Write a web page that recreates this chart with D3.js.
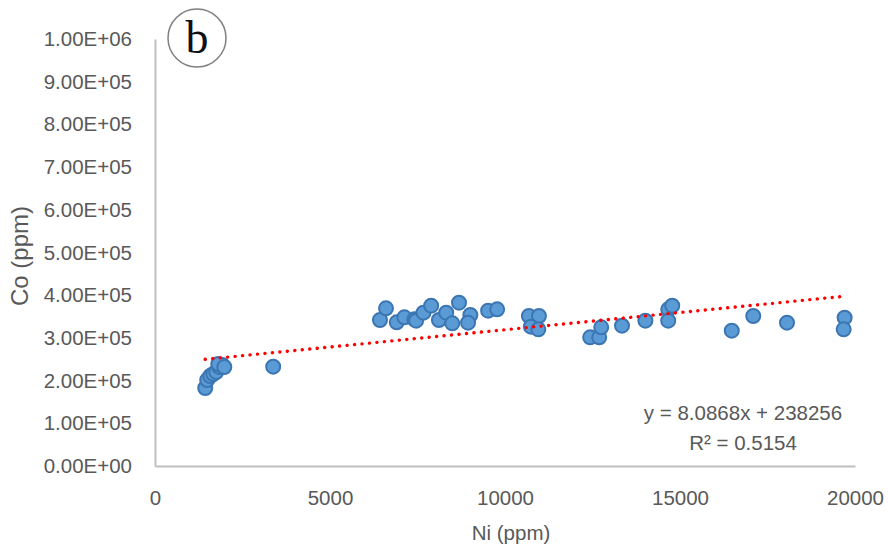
<!DOCTYPE html>
<html>
<head>
<meta charset="utf-8">
<script src="https://cdn.jsdelivr.net/npm/d3@7"></script>
<style>
  html, body { margin: 0; padding: 0; background: #fff; }
  svg { display: block; font-family: "Liberation Sans", Arial, sans-serif; }
</style>
</head>
<body>
<div id="chart"></div>
<script>
/* Co vs Ni scatter with linear trendline (panel b) */

var niPpm = [1435, 1492, 1578, 1664, 1750, 1836, 1923, 1808, 1980,
  3377,
  6428, 6600, 6907, 7125, 7412, 7461, 7670, 7891, 8112, 8321,
  8494, 8686, 9010, 8944, 9518, 9776,
  10683, 10970, 10740, 10953,
  12433, 12692, 12749, 13343, 14011, 14663, 14778, 14663,
  16479, 17093, 18057, 19704, 19676];

var coPpm = [182700, 201400, 210800, 215500, 220100, 231900, 236500, 238900, 231900,
  232600,
  341900, 369300, 336500, 348200, 343600, 340300, 359000, 375400, 341900, 359000,
  334200, 382400, 353600, 335600, 363700, 367000,
  351300, 351300, 326200, 320100,
  301400, 301400, 324800, 328600, 340300, 367000, 375400, 340300,
  316900, 351300, 335600, 347300, 320100];

var xTicks = [0, 5000, 10000, 15000, 20000];
var yTicks = [0, 1e5, 2e5, 3e5, 4e5, 5e5, 6e5, 7e5, 8e5, 9e5, 1e6];

var trendSlope = 8.0868;
var trendIntercept = 238256;
var trendLabels = ['y = 8.0868x + 238256', 'R\u00b2 = 0.5154'];

var panelLabel = 'b';
var xTitle = 'Ni (ppm)';
var yTitle = 'Co (ppm)';

var W = 888, H = 555;
var TEXT = '#595959';
var AXIS = '#bfbfbf';

var svg = d3.select('#chart').append('svg')
  .attr('width', W)
  .attr('height', H);

var x = d3.scaleLinear().domain([0, 20000]).range([155, 855]);
var y = d3.scaleLinear().domain([0, 1e6]).range([466, 39]);

function sciFmt(v) {
  if (v === 0) return '0.00E+00';
  var e = Math.floor(Math.log10(v));
  var m = v / Math.pow(10, e);
  return m.toFixed(2) + 'E+' + (e < 10 ? '0' + e : e);
}

/* ---- Axes ---- */
var gy = svg.append('g')
  .attr('transform', 'translate(' + x(0) + ',0)')
  .call(d3.axisLeft(y).tickValues(yTicks).tickSize(0).tickSizeOuter(0)
    .tickPadding(23).tickFormat(sciFmt));

var gx = svg.append('g')
  .attr('transform', 'translate(0,' + y(0) + ')')
  .call(d3.axisBottom(x).tickValues(xTicks).tickSize(0).tickSizeOuter(0)
    .tickPadding(24).tickFormat(d3.format('d')));

[gx, gy].forEach(function(g) {
  g.select('.domain').attr('stroke', AXIS).attr('stroke-width', 2);
  g.selectAll('text')
    .attr('fill', TEXT)
    .style('font-size', '20.5px')
    .style('font-family', '"Liberation Sans", Arial, sans-serif');
});

/* ---- Points ---- */
svg.append('g')
  .selectAll('circle')
  .data(niPpm.map(function(n, i) { return [n, coPpm[i]]; }))
  .join('circle')
  .attr('cx', function(d) { return x(d[0]); })
  .attr('cy', function(d) { return y(d[1]); })
  .attr('r', 7)
  .attr('fill', '#5b9bd5')
  .attr('stroke', '#3b76b3')
  .attr('stroke-width', 2);

/* ---- Trendline (over the points) ---- */
var xMin = d3.min(niPpm), xMax = d3.max(niPpm);
svg.append('line')
  .attr('x1', x(xMin))
  .attr('y1', y(trendSlope * xMin + trendIntercept))
  .attr('x2', x(xMax))
  .attr('y2', y(trendSlope * xMax + trendIntercept))
  .attr('stroke', '#ff0000')
  .attr('stroke-width', 3.4)
  .attr('stroke-linecap', 'round')
  .attr('stroke-dasharray', '0.1 7.4');

svg.append('g')
  .selectAll('text')
  .data(trendLabels)
  .join('text')
  .attr('x', 743)
  .attr('y', function(d, i) { return 420 + i * 30; })
  .attr('text-anchor', 'middle')
  .attr('fill', TEXT)
  .style('font-size', '20.5px')
  .text(function(d) { return d; });

/* ---- Axis titles ---- */
svg.append('text')
  .attr('x', x(10000) + 6)
  .attr('y', 540)
  .attr('text-anchor', 'middle')
  .attr('fill', TEXT)
  .style('font-size', '20.5px')
  .text(xTitle);

svg.append('text')
  .attr('transform', 'translate(28,256) rotate(-90)')
  .attr('text-anchor', 'middle')
  .attr('fill', TEXT)
  .style('font-size', '24px')
  .text(yTitle);

/* ---- Panel label ---- */
svg.append('circle')
  .attr('cx', 197)
  .attr('cy', 38)
  .attr('r', 29)
  .attr('fill', '#fff')
  .attr('stroke', '#7f7f7f')
  .attr('stroke-width', 1.5);

svg.append('text')
  .attr('x', 197)
  .attr('y', 53)
  .attr('text-anchor', 'middle')
  .attr('fill', '#111')
  .style('font-family', '"Liberation Serif", "Times New Roman", serif')
  .style('font-size', '46px')
  .text(panelLabel);
</script>
</body>
</html>
